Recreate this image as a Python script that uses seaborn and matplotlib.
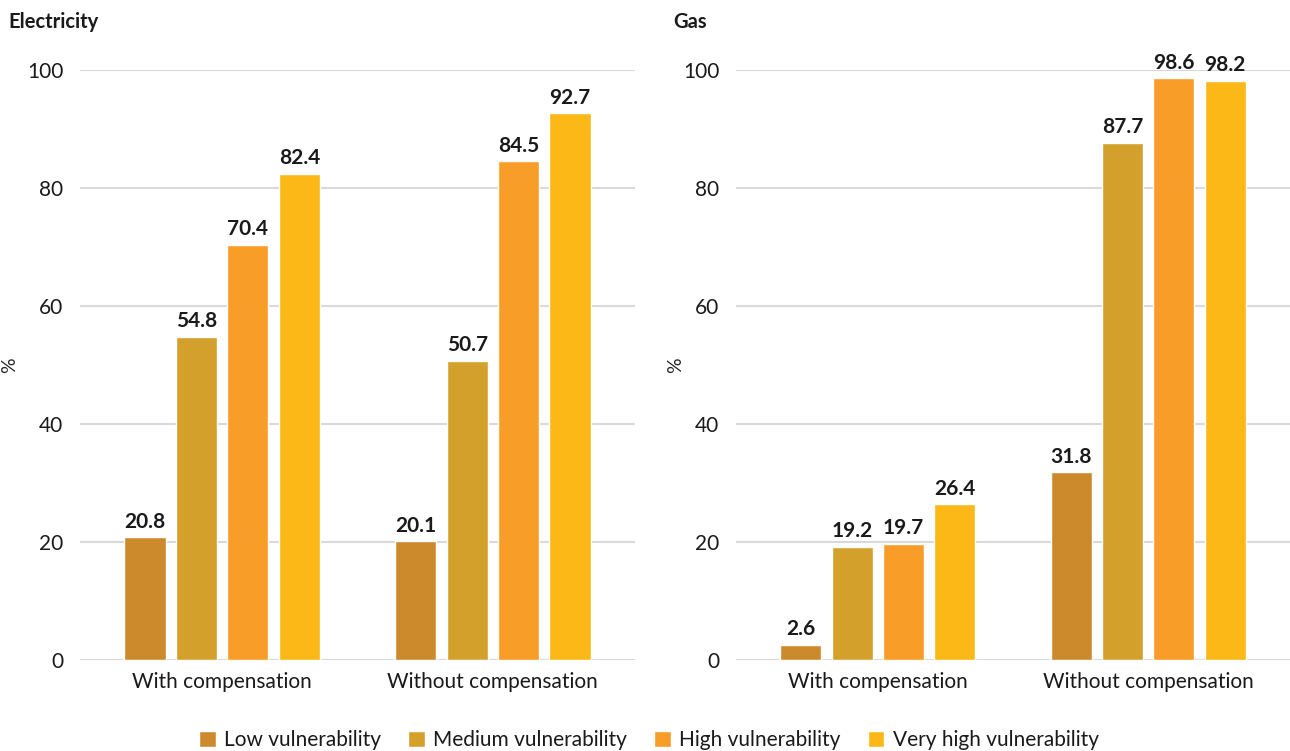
import matplotlib
matplotlib.use("Agg")
import matplotlib.pyplot as plt
import seaborn as sns
import pandas as pd

categories = ["With compensation", "Without compensation"]
groups = ["Low vulnerability", "Medium vulnerability", "High vulnerability", "Very high vulnerability"]
electricity_with = [20.8, 54.8, 70.4, 82.4]
electricity_without = [20.1, 50.7, 84.5, 92.7]
gas_with = [2.6, 19.2, 19.7, 26.4]
gas_without = [31.8, 87.7, 98.6, 98.2]
yticks = [0, 20, 40, 60, 80, 100]
colors = ["#CD8A2D", "#D3A02C", "#F89D27", "#FBB817"]


def to_frame(with_vals, without_vals):
    rows = []
    for cat, vals in zip(categories, [with_vals, without_vals]):
        for g, v in zip(groups, vals):
            rows.append({"category": cat, "group": g, "value": v})
    return pd.DataFrame(rows)


sns.set_theme(style="white")
plt.rcParams["font.family"] = ["Lato", "DejaVu Sans"]
plt.rcParams["text.color"] = "#1a1a1a"

W, H = 1290, 751
fig = plt.figure(figsize=(W / 100, H / 100), dpi=100)
ax1 = fig.add_axes([80 / W, 1 - 660 / H, 555 / W, 590 / H])
ax2 = fig.add_axes([736 / W, 1 - 660 / H, 554 / W, 590 / H])

panels = [
    (ax1, to_frame(electricity_with, electricity_without), "Electricity", 8, 80, 555, 18),
    (ax2, to_frame(gas_with, gas_without), "Gas", 673, 736, 554, 684),
]

for ax, df, title, tx, x0, w, lx in panels:
    sns.barplot(data=df, x="category", y="value", hue="group", order=categories,
                hue_order=groups, palette=colors, width=0.76, gap=0.2,
                saturation=1, ax=ax, legend=True, errorbar=None)
    for cont in ax.containers:
        ax.bar_label(cont, fmt="%.1f", padding=4, fontsize=15,
                     fontweight="bold", color="#1a1a1a")
    ax.set_xlim(-0.525, 1.525)
    ax.set_ylim(0, 100)
    ax.set_yticks(yticks)
    ax.yaxis.grid(True, color="#d9d9d9", linewidth=1.5)
    ax.set_axisbelow(True)
    for s in ax.spines.values():
        s.set_visible(False)
    ax.tick_params(axis="both", length=0, labelsize=15, colors="#1a1a1a")
    ax.tick_params(axis="y", pad=12)
    ax.tick_params(axis="x", pad=9)
    ax.set_xlabel("")
    ax.set_ylabel("%", fontsize=14)
    ax.yaxis.set_label_coords((lx - x0) / w, 0.5)
    fig.text(tx / W, 1 - 22 / H, title, fontsize=14.5, fontweight="bold",
             ha="left", va="center")

handles, labels = ax1.get_legend_handles_labels()
ax1.get_legend().remove()
ax2.get_legend().remove()
fig.legend(handles, labels, loc="center", bbox_to_anchor=(649 / W, 1 - 740 / H),
           ncol=4, frameon=False, fontsize=15, handlelength=0.8,
           handleheight=0.8, handletextpad=0.4, columnspacing=1.3)

fig.savefig("out.png", dpi=100, facecolor="white")
